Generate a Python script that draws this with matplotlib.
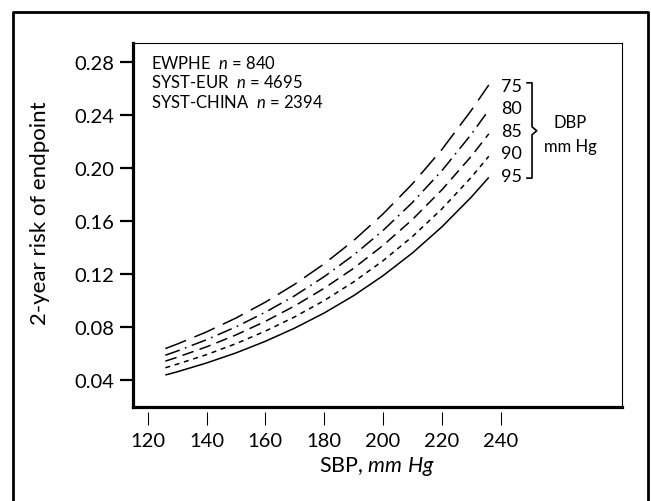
import matplotlib
matplotlib.use("Agg")
import matplotlib.pyplot as plt
from matplotlib.lines import Line2D

plt.rcParams['font.family'] = ['Lato', 'DejaVu Sans']
plt.rcParams['mathtext.fontset'] = 'custom'
plt.rcParams['mathtext.rm'] = 'Lato'
plt.rcParams['mathtext.it'] = 'Lato:italic'
plt.rcParams['lines.scale_dashes'] = False

# ---- data ----
sbp = [126, 130, 140, 150, 160, 170, 180, 190, 200, 210, 220, 230, 236]
risk_dbp75 = [0.0635, 0.0669, 0.0761, 0.0866, 0.0986, 0.1122, 0.1276, 0.1452, 0.1653, 0.1881, 0.2140, 0.2436, 0.263]
risk_dbp80 = [0.0585, 0.0616, 0.0702, 0.0799, 0.0910, 0.1035, 0.1179, 0.1342, 0.1528, 0.1740, 0.1980, 0.2255, 0.244]
risk_dbp85 = [0.054, 0.0569, 0.0648, 0.0738, 0.0841, 0.0958, 0.1091, 0.1242, 0.1415, 0.1611, 0.1835, 0.2089, 0.226]
risk_dbp90 = [0.049, 0.0517, 0.0589, 0.0672, 0.0767, 0.0875, 0.0998, 0.1139, 0.1299, 0.1482, 0.1691, 0.1930, 0.209]
risk_dbp95 = [0.0435, 0.0459, 0.0526, 0.0602, 0.0690, 0.0790, 0.0904, 0.1035, 0.1186, 0.1358, 0.1555, 0.1780, 0.193]
dbp_labels = ['75', '80', '85', '90', '95']
x_ticks = [120, 140, 160, 180, 200, 220, 240]
y_ticks = [0.04, 0.08, 0.12, 0.16, 0.20, 0.24, 0.28]
study_lines = [('EWPHE', '840'), ('SYST-EUR', '4695'), ('SYST-CHINA', '2394')]

W, H = 651, 502
fig = plt.figure(figsize=(W / 100, H / 100), dpi=100)
ax = fig.add_axes([132.7 / W, 1 - 408 / H, (622.3 - 132.7) / W, (408 - 43.5) / H])

series = [risk_dbp75, risk_dbp80, risk_dbp85, risk_dbp90, risk_dbp95]
dashes = [(16, 6.5), (11, 4, 1.2, 4), (8.5, 4.5), (3.6, 3.4), None]
for vals, d in zip(series, dashes):
    if d is None:
        ax.plot(sbp, vals, color='black', lw=1.1, solid_capstyle='butt')
    else:
        ax.plot(sbp, vals, color='black', lw=1.1, dashes=d, dash_capstyle='butt')

ax.set_xlim(114.9, 281.4)
ax.set_ylim(0.0193, 0.2951)
ax.set_xticks(x_ticks)
ax.set_xticklabels([str(v) for v in x_ticks])
ax.set_yticks(y_ticks)
ax.set_yticklabels([f'{v:.2f}' for v in y_ticks])

for s in ['top', 'right']:
    ax.spines[s].set_linewidth(0.8)
ax.spines['left'].set_linewidth(2.3)
ax.spines['bottom'].set_visible(False)
ax.spines['bottom'].set_position(('outward', 3.5))
ax.plot([0, 1], [0, 0], transform=ax.transAxes, color='black', lw=2.3,
        clip_on=False, solid_capstyle='projecting')

ax.tick_params(axis='y', direction='out', length=9.4, width=1.6, pad=4,
               labelsize=14.5)
ax.tick_params(axis='x', direction='out', length=9.4, width=0.75, pad=5,
               labelsize=14.5)

ax.set_xlabel('SBP, $\\mathit{mm\\ Hg}$', fontsize=15.5, labelpad=4)
ax.set_ylabel('2-year risk of endpoint', fontsize=16)
ax.yaxis.set_label_coords((50 - 132.7) / 489.6, (408 - 213) / 364.5)

# study annotation
ys = [0.28, 0.2653, 0.2506]
for (name, n), yy in zip(study_lines, ys):
    ax.text(121.0, yy, f'{name}  $\\mathit{{n}}$ = {n}', fontsize=12,
            va='center', ha='left')

# DBP labels
lab_y = [0.2624, 0.2455, 0.2284, 0.2116, 0.1944]
for t, yy in zip(dbp_labels, lab_y):
    ax.text(240.3, yy, t, fontsize=13, va='center', ha='left')

# bracket
top, bot, mid = 0.2646, 0.1925, 0.2283
bx = 250.7
ax.plot([249.0, bx, bx, 252.3, bx, bx, 249.0],
        [top, top, mid + 0.003, mid, mid - 0.003, bot, bot],
        color='black', lw=1.2, clip_on=False)
ax.text(263.6, 0.2346, 'DBP', fontsize=12, ha='center', va='center')
ax.text(263.6, 0.2170, 'mm Hg', fontsize=12, ha='center', va='center')

# outer frame
frame = Line2D([13 / W, 13 / W, 648 / W, 648 / W],
               [-0.05, 1 - 13 / H, 1 - 13 / H, -0.05],
               transform=fig.transFigure, color='black', lw=2.0)
fig.add_artist(frame)

fig.savefig('out.png', dpi=100)
